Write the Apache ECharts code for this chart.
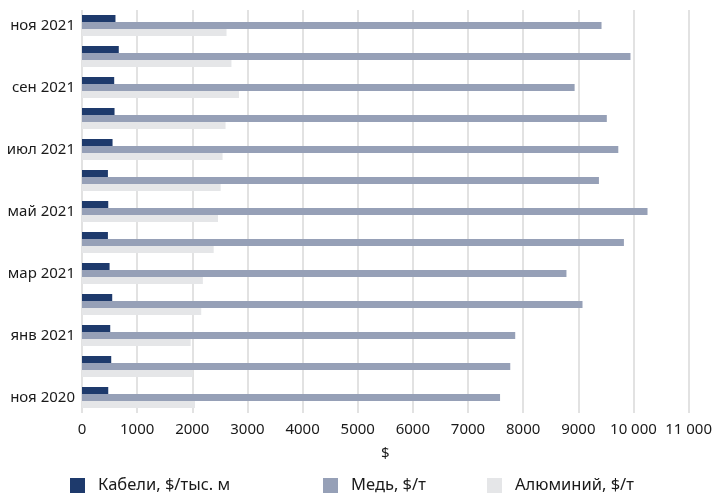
<!DOCTYPE html>
<html>
<head>
<meta charset="utf-8">
<script src="https://cdn.jsdelivr.net/npm/echarts@6/dist/echarts.min.js"></script>
<style>
  html, body { margin: 0; padding: 0; background: #fff; }
  #chart { width: 715px; height: 495px; }
</style>
</head>
<body>
<div id="chart"></div>
<script>
// Months, bottom to top
const months = ['ноя 2020', 'дек 2020', 'янв 2021', 'фев 2021', 'мар 2021', 'апр 2021',
  'май 2021', 'июн 2021', 'июл 2021', 'авг 2021', 'сен 2021', 'окт 2021', 'ноя 2021'];

// Prices per month
const cables = [476, 530, 512, 548, 500, 470, 476, 470, 554, 590, 584, 667, 607];
const copper = [7581, 7766, 7856, 9076, 8785, 9827, 10255, 9374, 9725, 9517, 8933, 9946, 9421];
const aluminium = [2049, 2007, 1971, 2162, 2192, 2388, 2466, 2514, 2549, 2603, 2847, 2710, 2621];

const seriesNames = ['Кабели, $/тыс. м', 'Медь, $/т', 'Алюминий, $/т'];
const colors = ['#1e3a6c', '#96a0b7', '#e5e6e8'];

const xTickLabels = {0: '0', 10000: '10 000', 11000: '11 000'};

const font = 'Noto Sans, sans-serif';
const textColor = '#1a1a1a';
const chart = echarts.init(document.getElementById('chart'), null, { renderer: 'canvas' });

const legendLefts = [70, 323, 487];

chart.setOption({
  animation: false,
  textStyle: { fontFamily: font },
  grid: { left: 82, right: 17, top: 10, bottom: 82, containLabel: false },
  legend: seriesNames.map((n, i) => ({
    data: [n],
    left: legendLefts[i],
    top: 477,
    padding: 0,
    itemWidth: 15,
    itemHeight: 15,
    icon: 'rect',
    textStyle: { fontFamily: font, fontSize: 16.5, color: textColor, padding: [0, 0, 0, 8] }
  })),
  xAxis: {
    type: 'value',
    min: 0,
    max: 11000,
    interval: 1000,
    name: '$',
    nameLocation: 'middle',
    nameGap: 33,
    nameTextStyle: { fontFamily: font, fontSize: 15, color: textColor },
    axisLine: { show: false },
    axisTick: { show: false },
    axisLabel: {
      fontFamily: font, fontSize: 15, color: textColor, margin: 9,
      formatter: v => xTickLabels[v] !== undefined ? xTickLabels[v] : String(v)
    },
    splitLine: { show: true, lineStyle: { color: '#d9d9d9', width: 1.5 } }
  },
  yAxis: {
    type: 'category',
    data: months,
    axisLine: { show: false },
    axisTick: { show: false },
    axisLabel: {
      interval: 1, fontFamily: font, fontSize: 15, color: textColor, margin: 7,
      padding: [0, 0, 4, 0]
    },
    splitLine: { show: false }
  },
  // Within each month: cables on top, copper in the middle, aluminium below
  series: [
    { name: seriesNames[0], type: 'bar', data: cables, itemStyle: { color: colors[0] }, barWidth: 7, barGap: '0%' },
    { name: seriesNames[1], type: 'bar', data: copper, itemStyle: { color: colors[1] }, barWidth: 7, barGap: '0%' },
    { name: seriesNames[2], type: 'bar', data: aluminium, itemStyle: { color: colors[2] }, barWidth: 7, barGap: '0%' }
  ]
});
</script>
</body>
</html>
